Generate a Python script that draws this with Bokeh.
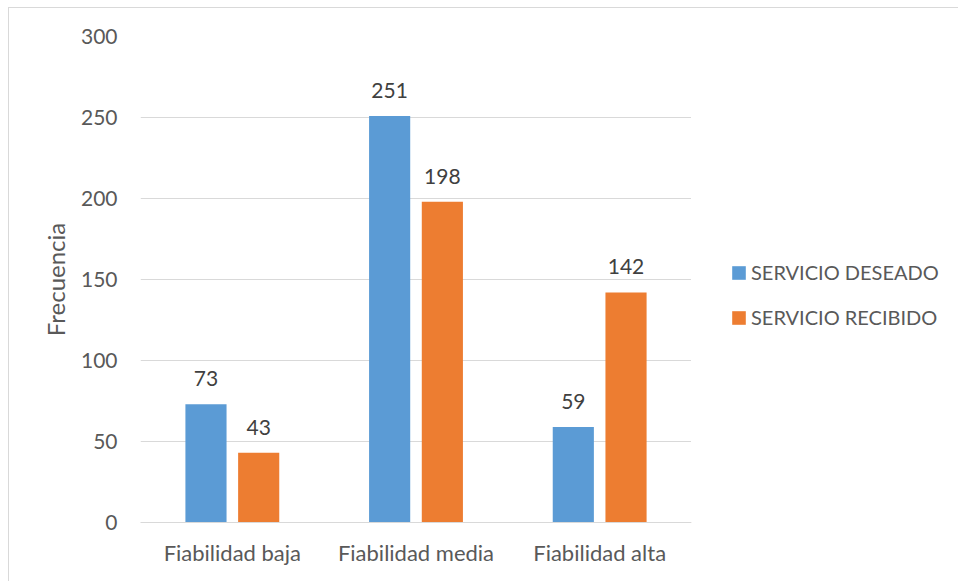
from bokeh.plotting import figure
from bokeh.models import ColumnDataSource, Legend, LegendItem, FactorRange, Range1d
from bokeh.layouts import row
from bokeh.transform import dodge
from bokeh.embed import file_html
from bokeh.resources import INLINE
from bokeh.core.properties import value

categories = ["Fiabilidad baja", "Fiabilidad media", "Fiabilidad alta"]
deseado = [73, 251, 59]
recibido = [43, 198, 142]
series_names = ["SERVICIO DESEADO", "SERVICIO RECIBIDO"]
series_colors = ["#5B9BD5", "#ED7D31"]
y_ticks = [0, 50, 100, 150, 200, 250, 300]

FONT = "Lato"
src = ColumnDataSource(dict(cat=categories, d=deseado, r=recibido,
                            dl=[str(v) for v in deseado], rl=[str(v) for v in recibido]))

p = figure(x_range=FactorRange(*categories), y_range=(0, 300), width=682, height=573,
           output_backend="svg", toolbar_location=None,
           min_border_left=131, min_border_right=0, min_border_top=28, min_border_bottom=59)
p.outline_line_color = None
p.background_fill_color = "white"
p.border_fill_color = "white"

bw = 0.224
off = bw / 2 + 0.0315
p.vbar(x=dodge("cat", -off, range=p.x_range), top="d", width=bw, source=src,
       fill_color=series_colors[0], line_color=None)
p.vbar(x=dodge("cat", off, range=p.x_range), top="r", width=bw, source=src,
       fill_color=series_colors[1], line_color=None)

p.text(x=dodge("cat", -off, range=p.x_range), y="d", text="dl", source=src,
       text_align="center", text_baseline="bottom", y_offset=-18,
       text_font=value(FONT), text_font_size="21px", text_color="#404040")
p.text(x=dodge("cat", off, range=p.x_range), y="r", text="rl", source=src,
       text_align="center", text_baseline="bottom", y_offset=-18,
       text_font=value(FONT), text_font_size="21px", text_color="#404040")

p.yaxis.ticker = y_ticks
p.ygrid.grid_line_color = "#d9d9d9"
p.ygrid.grid_line_width = 1
p.xgrid.grid_line_color = None
p.yaxis.axis_line_color = None
p.yaxis.major_tick_line_color = None
p.yaxis.minor_tick_line_color = None
p.yaxis.major_label_standoff = 17
p.yaxis.major_label_text_font = FONT
p.yaxis.major_label_text_font_size = "21px"
p.yaxis.major_label_text_color = "#595959"
p.yaxis.axis_label = "Frecuencia"
p.yaxis.axis_label_text_font = FONT
p.yaxis.axis_label_text_font_size = "24px"
p.yaxis.axis_label_text_font_style = "normal"
p.yaxis.axis_label_text_color = "#595959"
p.yaxis.axis_label_standoff = 8

p.xaxis.axis_line_color = "#d9d9d9"
p.xaxis.major_tick_line_color = None
p.xaxis.minor_tick_line_color = None
p.xaxis.major_label_standoff = 10
p.xaxis.major_label_text_font = FONT
p.xaxis.major_label_text_font_size = "22px"
p.xaxis.major_label_text_color = "#595959"

# legend panel (proxy glyphs of zero height, outside the visible range)
q = figure(width=267, height=573, output_backend="svg", toolbar_location=None,
           x_range=Range1d(10, 11), y_range=Range1d(10, 11),
           x_axis_location=None, y_axis_location=None,
           min_border_left=0, min_border_right=0, min_border_top=0, min_border_bottom=0)
q.outline_line_color = None
q.grid.grid_line_color = None
q.background_fill_color = "white"
q.border_fill_color = "white"
proxy = ColumnDataSource(dict(x=[0], top=[0]))
lr = [q.vbar(x="x", top="top", width=0.1, source=proxy, fill_color=c, line_color=None)
      for c in series_colors]

legend = Legend(items=[LegendItem(label=n, renderers=[r]) for n, r in zip(series_names, lr)],
                location=(39, 193), orientation="vertical")
legend.border_line_color = None
legend.background_fill_alpha = 0
legend.glyph_width = 17
legend.glyph_height = 17
legend.label_standoff = 4
legend.label_text_font = FONT
legend.label_text_font_size = "20px"
legend.label_text_color = "#595959"
legend.label_height = 24
legend.spacing = 21
legend.padding = 0
legend.margin = 0
q.add_layout(legend, "center")

lay = row(p, q, spacing=0)
lay.styles = {"margin-left": "8px", "margin-top": "7px",
              "border-left": "1px solid #d9d9d9", "border-top": "1px solid #d9d9d9"}

open("out.html", "w").write(file_html(lay, INLINE))
